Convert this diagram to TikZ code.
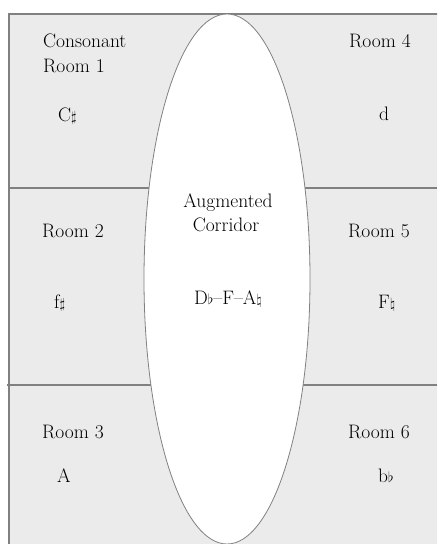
\documentclass[tikz,border=0pt]{standalone}
\usetikzlibrary{shapes.geometric}
\definecolor{roomfill}{RGB}{235,235,235}
\definecolor{wall}{RGB}{128,128,128}
\newcommand{\accsh}{{\fontsize{14}{14}\selectfont$\sharp$}}
\newcommand{\accfl}{{\fontsize{14}{14}\selectfont$\flat$}}
\newcommand{\accna}{{\fontsize{14}{14}\selectfont$\natural$}}
\tikzset{
  lbl/.style={anchor=base west, inner sep=0pt, font=\fontsize{19.5}{24}\selectfont},
  clbl/.style={anchor=base, inner sep=0pt, font=\fontsize{19.5}{24}\selectfont},
  wallline/.style={draw=wall, line width=1.3pt}
}
\begin{document}
\begin{tikzpicture}[x=1pt,y=-1pt]
\useasboundingbox (0,0) rectangle (437,544);
\begin{scope}
\clip (0,0) rectangle (437,544);
\draw[wallline, fill=roomfill] (9,14) rectangle (445,560);
\draw[wallline] (9,188) -- (437,188);
\draw[wallline] (7,385) -- (437,385);
\node[ellipse, draw=wall, line width=0.8pt, fill=white, minimum width=166pt, minimum height=530pt, inner sep=0pt] (corr) at (227,279) {};
\end{scope}
\node[lbl] (r1a) at (43,47) {Consonant};
\node[lbl] (r1b) at (43,72) {Room 1};
\node[lbl] (n1) at (58,121) {C\accsh};
\node[lbl] (r4) at (349,47) {Room 4};
\node[lbl] (n4) at (379,120) {d};
\node[clbl] (ca) at (228,207) {Augmented};
\node[clbl] (cb) at (226,231) {Corridor};
\node[clbl] (cn) at (228,304) {D\accfl--F--A\accna};
\node[lbl] (r2) at (42,237) {Room 2};
\node[lbl] (n2) at (54,308) {f\accsh};
\node[lbl] (r5) at (348,237) {Room 5};
\node[lbl] (n5) at (378,308) {F\accna};
\node[lbl] (r3) at (42,438) {Room 3};
\node[lbl] (n3) at (57,482) {A};
\node[lbl] (r6) at (348,438) {Room 6};
\node[lbl] (n6) at (378,482) {b\accfl};
\end{tikzpicture}
\end{document}
